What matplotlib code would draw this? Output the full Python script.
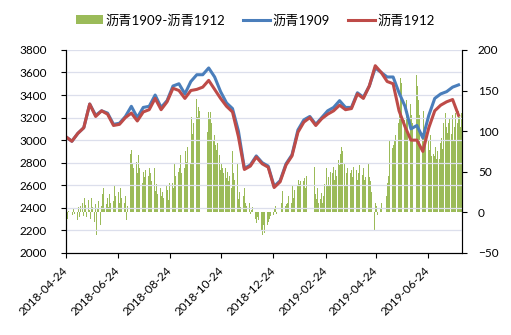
import matplotlib.pyplot as plt
import numpy as np
import pandas as pd

plt.rcParams['font.family'] = ['Lato', 'Noto Sans CJK SC', 'DejaVu Sans']

# weekly closes (Tuesdays from 2018-04-24)
line_start = '2018-04-24'
bu1909 = [3030, 2990, 3060, 3110, 3320, 3220, 3260, 3240, 3140, 3150,
          3210, 3300, 3200, 3290, 3300, 3400, 3290, 3350, 3480, 3500,
          3410, 3520, 3580, 3580, 3640, 3560, 3430, 3330, 3280, 3080,
          2750, 2780, 2860, 2800, 2770, 2590, 2640, 2790, 2870, 3090,
          3180, 3210, 3140, 3200, 3260, 3290, 3350, 3290, 3290, 3420,
          3380, 3480, 3640, 3600, 3560, 3560, 3420, 3300, 3100, 3130,
          3020, 3220, 3370, 3410, 3430, 3470, 3490]
bu1912 = [3030, 2990, 3060, 3110, 3320, 3210, 3260, 3230, 3130, 3140,
          3200, 3240, 3170, 3250, 3270, 3370, 3270, 3340, 3460, 3440,
          3370, 3440, 3450, 3470, 3530, 3450, 3370, 3300, 3250, 3030,
          2740, 2770, 2850, 2790, 2760, 2580, 2630, 2780, 2860, 3070,
          3160, 3200, 3130, 3190, 3230, 3260, 3310, 3270, 3280, 3410,
          3370, 3480, 3660, 3600, 3520, 3500, 3260, 3120, 3000, 3000,
          2900, 3110, 3260, 3310, 3340, 3360, 3220]

# daily spread 1909-1912, one row per week (Mon..Fri), nan = no trading
spread_start = '2018-04-23'
nan = np.nan
spread = [
    [nan, -12, 5, -8, 2], [nan, nan, -3, 4, -2], [-4, -10, 6, -6, 8],
    [12, -5, 18, 9, -6], [15, 3, -8, 18, 6], [-12, 10, -28, 4, 14],
    [-15, 8, 22, 30, 5], [10, 18, 6, 22, 12], [nan, 14, 32, 20, 8],
    [25, 12, 30, 18, 28], [12, 20, -10, 8, 4], [72, 77, 60, 68, 55],
    [62, 48, 70, 40, 55], [36, 50, 44, 28, 52], [45, 54, 30, 48, 38],
    [54, 26, 42, 35, 23], [30, 20, 32, 25, 18], [32, 21, 28, 15, 36],
    [36, 40, 30, 60, 45], [50, 60, 55, 70, 48], [104, 55, 75, 62, 80],
    [91, 60, 118, 96, 110], [nan, 140, 118, 130, 125], [nan, nan, nan, nan, nan],
    [99, 124, 115, 124, 110], [89, 95, 83, 77, 85], [70, 52, 60, 54, 48],
    [55, 42, 50, 38, 45], [30, 75, 48, 40, 60], [60, 17, 25, 7, 12],
    [20, 30, 12, 8, 15], [12, -2, 3, -5, 6], [-8, -13, -6, -18, -10],
    [-22, -28, -15, -20, -25], [-15, -12, -20, -8, -5], [-3, 5, 13, 8, -2],
    [nan, nan, 28, 12, 26], [8, 16, 10, 12, 20], [12, 25, 32, 18, 28],
    [32, 22, 40, 35, 38], [44, 38, 42, 30, 45], [nan, nan, nan, nan, nan],
    [56, 23, 16, 30, 12], [17, 24, 12, 20, 35], [54, 32, 44, 32, 50],
    [48, 56, 40, 52, 45], [65, 58, 72, 81, 76], [60, 32, 48, 55, 40],
    [48, 52, 44, 56, 46], [52, 40, 48, 58, nan], [46, 55, 40, 52, 44],
    [60, 44, 38, 30, 25], [-22, 12, 8, 15, -3], [5, 12, nan, nan, nan],
    [20, 36, 28, 45, 89], [79, 83, 70, 88, 95], [110, 132, 120, 165, 159],
    [114, 130, 100, 138, 125], [134, 101, 120, 110, nan], [138, 169, 155, 138, 120],
    [114, 98, 125, 105, 101], [101, 88, 77, 95, 69], [72, 69, 80, 66, 75],
    [66, 85, 91, 78, 110], [122, 105, 98, 110, 115], [97, 120, 88, 105, 122],
    [110, 125, 118, 105, 122],
]

tick_dates = ['2018-04-24', '2018-06-24', '2018-08-24', '2018-10-24',
              '2018-12-24', '2019-02-24', '2019-04-24', '2019-06-24']

week_dates = pd.date_range(line_start, periods=len(bu1909), freq='7D')
sp_dates, sp_vals = [], []
mon0 = pd.Timestamp(spread_start)
for k, row in enumerate(spread):
    for d, v in enumerate(row):
        if not np.isnan(v):
            sp_dates.append(mon0 + pd.Timedelta(days=7 * k + d))
            sp_vals.append(v)

fig = plt.figure(figsize=(5.11, 3.35), dpi=100)
ax = fig.add_axes([0.129, 0.245, 0.775, 0.606])
ax2 = ax.twinx()
ax.set_zorder(2)
ax.patch.set_visible(False)

b = ax2.bar(sp_dates, sp_vals, width=1.0, color='#9BBB59', linewidth=0,
            label='沥青1909-沥青1912')
l1, = ax.plot(week_dates, bu1909, color='#4A7EBB', lw=2.2, label='沥青1909')
l2, = ax.plot(week_dates, bu1912, color='#BE4B48', lw=2.2, label='沥青1912')

ax.set_ylim(2000, 3800)
ax.set_yticks(range(2000, 3801, 200))
ax2.set_ylim(-50, 200)
ax2.set_yticks(range(-50, 201, 50))
ax.set_xlim(pd.Timestamp('2018-04-24'), pd.Timestamp('2019-08-03'))
ax.yaxis.grid(True, color='#DCDFEC', lw=0.9)
ax.set_axisbelow(True)

ax.set_xticks(pd.to_datetime(tick_dates))
ax.set_xticklabels(tick_dates, rotation=45, ha='right', va='center',
                   rotation_mode='anchor')
for a in (ax, ax2):
    a.spines['top'].set_visible(False)
    a.tick_params(labelsize=8.5, length=3.5, width=0.8, colors='#000000')
ax.tick_params(axis='y', pad=10)
ax.tick_params(axis='x', pad=8)
ax2.tick_params(axis='y', pad=8)
ax2.spines['right'].set_color('#595959')
ax.spines['left'].set_color('#000000')

fig.legend([b, l1, l2], ['沥青1909-沥青1912', '沥青1909', '沥青1912'],
           loc='center', bbox_to_anchor=(0.5, 1 - 20 / 335), ncol=3,
           frameon=False, fontsize=9.5, handlelength=2.0, columnspacing=1.4,
           handletextpad=0.2)

fig.savefig('out.png', dpi=100)
